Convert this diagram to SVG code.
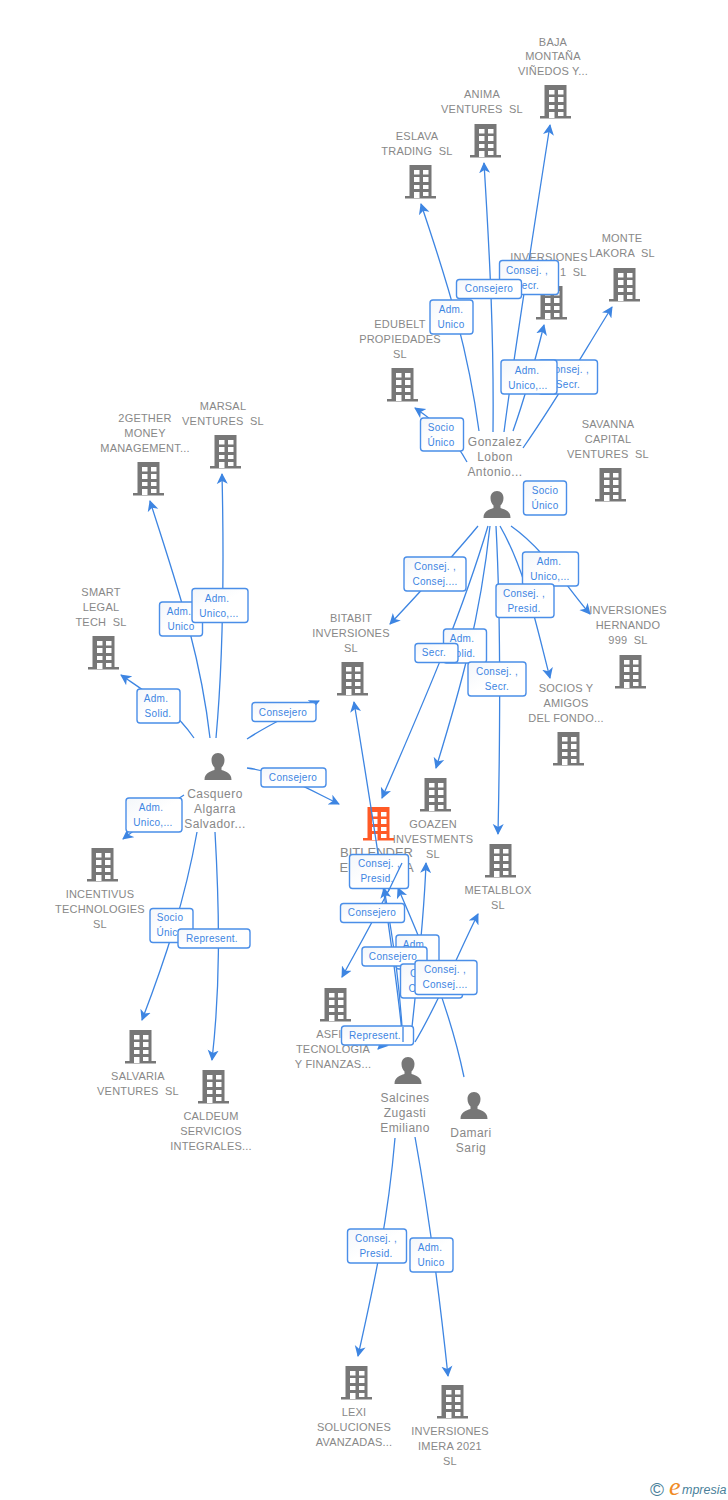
<svg xmlns="http://www.w3.org/2000/svg" width="728" height="1500" viewBox="0 0 728 1500">
<style>
.n{font:11px "Liberation Sans",Arial,sans-serif;fill:#888;text-anchor:middle;letter-spacing:.2px;white-space:pre}
.m{font:13px "Liberation Sans",Arial,sans-serif;fill:#888;text-anchor:middle}
.p{font:12px "Liberation Sans",Arial,sans-serif;fill:#888;text-anchor:middle;letter-spacing:.45px}
.c,.t{fill:none;stroke:#3d85e2;stroke-width:1.3}
.c{marker-end:url(#a)}
.b rect{fill:url(#bg);stroke:#4a8ee8;stroke-width:1.4}
.b text{font:10px "Liberation Sans",Arial,sans-serif;fill:#3d85e2;text-anchor:middle;letter-spacing:.3px}
.i{fill:#777}
.o{fill:#ff5a26}
</style>
<defs>
<linearGradient id="bg" x1="0" y1="0" x2="1" y2="1"><stop offset="0" stop-color="#f3f6fa"/><stop offset=".5" stop-color="#fff"/></linearGradient>
<marker id="a" markerUnits="userSpaceOnUse" markerWidth="14" markerHeight="14" refX="10" refY="6" orient="auto"><path d="M0,.5 L11,6 L0,11.500 L3,6Z" fill="#3d85e2"/></marker>
<path id="bl" fill-rule="evenodd" d="M-15,33.500v-2.500h4.500V0H11.500V31H16V33.500ZM-6,5v4.500h5.500V5ZM3,5v4.500h5.500V5ZM-6,12v5h5.500v-5ZM3,12v5h5.500v-5ZM-6,20v4h5.500v-4ZM3,20v4h5.500v-4ZM-6,27v6h5.500v-6ZM3,27v4h5.500v-4Z"/>
<path id="pr" d="M0,0C4,0 6.500,3 6.500,7C6.500,10.500 5,13 3.500,14.500V17C8,18.500 13.500,20 13.500,27H-13.500C-13.500,20 -8,18.500 -3.500,17V14.500C-5,13 -6.500,10.500 -6.500,7C-6.500,3 -4,0 0,0Z" fill="#777"/>
</defs>
<rect width="728" height="1500" fill="#fff"/>
<g id="n1"><use class="i" href="#bl" x="555" y="85"/><text class="n" x="553" y="46">BAJA</text><text class="n" x="553" y="60">MONTAÑA</text><text class="n" x="553" y="75">VIÑEDOS Y...</text></g>
<g id="n2"><use class="i" href="#bl" x="485" y="124"/><text class="n" x="482" y="98">ANIMA</text><text class="n" x="482" y="113">VENTURES  SL</text></g>
<g id="n3"><use class="i" href="#bl" x="420" y="165"/><text class="n" x="417" y="140">ESLAVA</text><text class="n" x="417" y="155">TRADING  SL</text></g>
<g id="n4"><use class="i" href="#bl" x="551" y="286"/><text class="n" x="549" y="261">INVERSIONES</text><text class="n" x="560" y="276" style="text-anchor:start">1  SL</text></g>
<g id="n5"><use class="i" href="#bl" x="624" y="268"/><text class="n" x="622" y="242">MONTE</text><text class="n" x="622" y="257">LAKORA  SL</text></g>
<g id="n6"><use class="i" href="#bl" x="402" y="368"/><text class="n" x="400" y="328">EDUBELT</text><text class="n" x="400" y="343">PROPIEDADES</text><text class="n" x="400" y="358">SL</text></g>
<g id="n7"><use class="i" href="#bl" x="610" y="468"/><text class="n" x="608" y="428">SAVANNA</text><text class="n" x="608" y="443">CAPITAL</text><text class="n" x="608" y="458">VENTURES  SL</text></g>
<g id="n8"><use href="#pr" x="497" y="491"/><text class="p" x="495" y="446">Gonzalez</text><text class="p" x="495" y="461">Lobon</text><text class="p" x="495" y="476">Antonio...</text></g>
<g id="n9"><use class="i" href="#bl" x="148" y="462"/><text class="n" x="145" y="422">2GETHER</text><text class="n" x="145" y="437">MONEY</text><text class="n" x="145" y="452">MANAGEMENT...</text></g>
<g id="n10"><use class="i" href="#bl" x="225" y="435"/><text class="n" x="223" y="410">MARSAL</text><text class="n" x="223" y="425">VENTURES  SL</text></g>
<g id="n11"><use class="i" href="#bl" x="103" y="636"/><text class="n" x="101" y="596">SMART</text><text class="n" x="101" y="611">LEGAL</text><text class="n" x="101" y="626">TECH  SL</text></g>
<g id="n12"><use class="i" href="#bl" x="352" y="662"/><text class="n" x="351" y="622">BITABIT</text><text class="n" x="351" y="637">INVERSIONES</text><text class="n" x="351" y="652">SL</text></g>
<g id="n13"><use class="i" href="#bl" x="630" y="655"/><text class="n" x="628" y="614">INVERSIONES</text><text class="n" x="628" y="629">HERNANDO</text><text class="n" x="628" y="644">999  SL</text></g>
<g id="n14"><use class="i" href="#bl" x="568" y="732"/><text class="n" x="566" y="692">SOCIOS Y</text><text class="n" x="566" y="707">AMIGOS</text><text class="n" x="566" y="722">DEL FONDO...</text></g>
<g id="n15"><use class="i" href="#bl" x="435" y="778"/><text class="n" x="433" y="828">GOAZEN</text><text class="n" x="433" y="843">INVESTMENTS</text><text class="n" x="433" y="858">SL</text></g>
<g id="n16"><use class="i" href="#bl" x="500" y="844"/><text class="n" x="498" y="894">METALBLOX</text><text class="n" x="498" y="909">SL</text></g>
<g id="n17"><use class="o" href="#bl" x="378" y="807"/><text class="m" x="376.500" y="857">BITLENDER</text><text class="m" x="376.500" y="872">EUROPA SA</text></g>
<g id="n18"><use href="#pr" x="218" y="753"/><text class="p" x="215" y="798">Casquero</text><text class="p" x="215" y="813">Algarra</text><text class="p" x="215" y="828">Salvador...</text></g>
<g id="n19"><use class="i" href="#bl" x="102" y="848"/><text class="n" x="100" y="898">INCENTIVUS</text><text class="n" x="100" y="913">TECHNOLOGIES</text><text class="n" x="100" y="928">SL</text></g>
<g id="n20"><use class="i" href="#bl" x="140" y="1030"/><text class="n" x="138" y="1080">SALVARIA</text><text class="n" x="138" y="1095">VENTURES  SL</text></g>
<g id="n21"><use class="i" href="#bl" x="213" y="1070"/><text class="n" x="211" y="1120">CALDEUM</text><text class="n" x="211" y="1135">SERVICIOS</text><text class="n" x="211" y="1150">INTEGRALES...</text></g>
<g id="n22"><use class="i" href="#bl" x="335" y="988"/><text class="n" x="333" y="1038">ASFIN</text><text class="n" x="333" y="1053">TECNOLOGIA</text><text class="n" x="333" y="1068">Y FINANZAS...</text></g>
<g id="n23"><use href="#pr" x="408" y="1057"/><text class="p" x="405" y="1102">Salcines</text><text class="p" x="405" y="1117">Zugasti</text><text class="p" x="405" y="1132">Emiliano</text></g>
<g id="n24"><use href="#pr" x="474" y="1092"/><text class="p" x="471" y="1137">Damari</text><text class="p" x="471" y="1152">Sarig</text></g>
<g id="n25"><use class="i" href="#bl" x="356" y="1366"/><text class="n" x="354" y="1416">LEXI</text><text class="n" x="354" y="1431">SOLUCIONES</text><text class="n" x="354" y="1446">AVANZADAS...</text></g>
<g id="n26"><use class="i" href="#bl" x="452" y="1385"/><text class="n" x="450" y="1435">INVERSIONES</text><text class="n" x="450" y="1450">IMERA 2021</text><text class="n" x="450" y="1465">SL</text></g>
<g id="connectors">
<path class="c" d="M504,432C512,370 532,240 550,125"/>
<path class="c" d="M493,432C494,340 490,260 484,163"/>
<path class="c" d="M479,431C468,350 450,290 421,204"/>
<path class="c" d="M513,431C524,400 534,365 544,325"/>
<path class="c" d="M523,448C560,395 585,350 612,307"/>
<path class="c" d="M467,462C455,440 440,425 415,408"/>
<path class="c" d="M478,526C450,560 420,592 390,624"/>
<path class="c" d="M488,526C460,620 420,710 382,798"/>
<path class="c" d="M490,526C480,620 460,690 436,768"/>
<path class="c" d="M496,526C501,620 500,740 498,834"/>
<path class="c" d="M500,526C525,570 535,620 550,678"/>
<path class="c" d="M511,526C545,550 565,585 590,614"/>
<path class="c" d="M210,738C200,650 175,580 150,501"/>
<path class="c" d="M216,738C224,650 224,560 222,474"/>
<path class="c" d="M194,738C175,710 150,695 121,675"/>
<path class="c" d="M247,739C270,724 295,712 319,701"/>
<path class="c" d="M247,768C280,772 310,790 339,804"/>
<path class="c" d="M184,795C165,807 145,822 123,839"/>
<path class="c" d="M197,832C185,900 165,960 142,1020"/>
<path class="c" d="M215,832C220,920 220,990 212,1060"/>
<path class="c" d="M403,1042C395,960 375,830 354,702"/>
<path class="c" d="M403,1042C400,990 395,950 384,888"/>
<path class="c" d="M464,1077C450,1010 425,950 398,888"/>
<path class="c" d="M412,1027C418,970 424,920 426,863"/>
<path class="c" d="M402,863C385,900 365,935 342,977"/>
<path class="c" d="M398,1030C392,1037 385,1042 378,1049"/>
<path class="c" d="M415,1042C440,1000 455,960 478,914"/>
<path class="c" d="M395,1138C388,1220 375,1280 358,1356"/>
<path class="c" d="M415,1137C430,1220 440,1300 448,1376"/>
</g>
<g id="labels">
<g class="b"><rect x="499.500" y="260.500" width="59" height="34" rx="3"/><text x="527" y="274">Consej. ,</text><text x="527" y="289">Secr.</text></g>
<g class="b"><rect x="456.500" y="279.500" width="65" height="19" rx="3"/><text x="489" y="292">Consejero</text></g>
<g class="b"><rect x="430" y="300" width="43" height="34" rx="3"/><text x="451" y="313">Adm.</text><text x="451" y="328">Unico</text></g>
<g class="b"><rect x="538.500" y="360" width="59" height="34" rx="3"/><text x="568" y="373">Consej. ,</text><text x="568" y="388">Secr.</text></g>
<g class="b"><rect x="501" y="360" width="56" height="34" rx="3"/><text x="527" y="374">Adm.</text><text x="528" y="389">Unico,...</text></g>
<g class="b"><rect x="420.500" y="418" width="43" height="33" rx="3"/><text x="441" y="431">Socio</text><text x="441" y="446">Único</text></g>
<g class="b"><rect x="523.500" y="481" width="43" height="34" rx="3"/><text x="545" y="494">Socio</text><text x="545" y="509">Único</text></g>
<g class="b"><rect x="404" y="557" width="62" height="34" rx="3"/><text x="435" y="570">Consej. ,</text><text x="435" y="585">Consej....</text></g>
<g class="b"><rect x="522.500" y="552" width="56" height="34" rx="3"/><text x="549" y="565">Adm.</text><text x="550" y="580">Unico,...</text></g>
<g class="b"><rect x="443.500" y="629" width="43" height="34" rx="3"/><text x="462" y="642">Adm.</text><text x="462" y="657">Solid.</text></g>
<g class="b"><rect x="415" y="643.500" width="43" height="19" rx="3"/><text x="434" y="656">Secr.</text></g>
<g class="b"><rect x="496" y="584" width="58" height="33.500" rx="3"/><text x="524" y="597">Consej. ,</text><text x="524" y="612">Presid.</text></g>
<g class="b"><rect x="468" y="662" width="58" height="34" rx="3"/><text x="497" y="675">Consej. ,</text><text x="497" y="690">Secr.</text></g>
<g class="b"><rect x="159.500" y="602" width="43" height="34" rx="3"/><text x="179" y="615">Adm.</text><text x="181" y="630">Unico</text></g>
<g class="b"><rect x="192" y="588.500" width="56" height="34" rx="3"/><text x="217" y="602">Adm.</text><text x="219" y="617">Unico,...</text></g>
<g class="b"><rect x="137" y="689" width="43" height="34" rx="3"/><text x="156" y="702">Adm.</text><text x="158" y="717">Solid.</text></g>
<g class="b"><rect x="252" y="702.500" width="64" height="19" rx="3"/><text x="283" y="716">Consejero</text></g>
<g class="b"><rect x="261" y="768" width="65" height="19" rx="3"/><text x="293" y="781">Consejero</text></g>
<g class="b"><rect x="126" y="798" width="56" height="34" rx="3"/><text x="151" y="811">Adm.</text><text x="153" y="826">Unico,...</text></g>
<g class="b"><rect x="150" y="908.500" width="43" height="34" rx="3"/><text x="170" y="921">Socio</text><text x="170" y="936">Único</text></g>
<g class="b"><rect x="178" y="929" width="72" height="19" rx="3"/><text x="212" y="942">Represent.</text></g>
<g class="b"><rect x="349.500" y="854.500" width="59" height="34" rx="3"/><text x="379" y="867">Consej. ,</text><text x="377" y="882">Presid.</text></g>
<g class="b"><rect x="340.500" y="903.500" width="64" height="19" rx="3"/><text x="372" y="916">Consejero</text></g>
<g class="b"><rect x="396" y="935" width="43" height="34" rx="3"/><text x="415" y="948">Adm.</text></g>
<g class="b"><rect x="362" y="947" width="65" height="19" rx="3"/><text x="393" y="960">Consejero</text></g>
<g class="b"><rect x="400.500" y="964" width="62" height="34" rx="3"/><text x="431" y="977">Consej. ,</text><text x="431" y="992">Consej....</text></g>
<g class="b"><rect x="415" y="960.500" width="62" height="34" rx="3"/><text x="445" y="973">Consej. ,</text><text x="445" y="988">Consej....</text></g>
<g class="b"><rect x="341.500" y="1026" width="72" height="19" rx="3"/><text x="375" y="1039">Represent.</text></g>
<g class="b"><rect x="347.500" y="1229" width="59" height="34" rx="3"/><text x="376" y="1242">Consej. ,</text><text x="376" y="1257">Presid.</text></g>
<g class="b"><rect x="410" y="1238" width="43" height="34" rx="3"/><text x="430" y="1251">Adm.</text><text x="431" y="1266">Unico</text></g>
</g>
<g id="top"><path class="t" d="M402,863L388,892M403,1042V1027"/></g>
<g id="logo"><text x="650" y="1496" style="font:19px 'Liberation Sans',sans-serif;fill:#4a7f9a">©</text><text x="669" y="1495" style="font:italic 26px 'Liberation Serif',serif;fill:#f08a24">e</text><text x="682" y="1494" style="font:italic 12.500px 'Liberation Sans',sans-serif;fill:#4a7f9a">mpresia</text></g>
</svg>
